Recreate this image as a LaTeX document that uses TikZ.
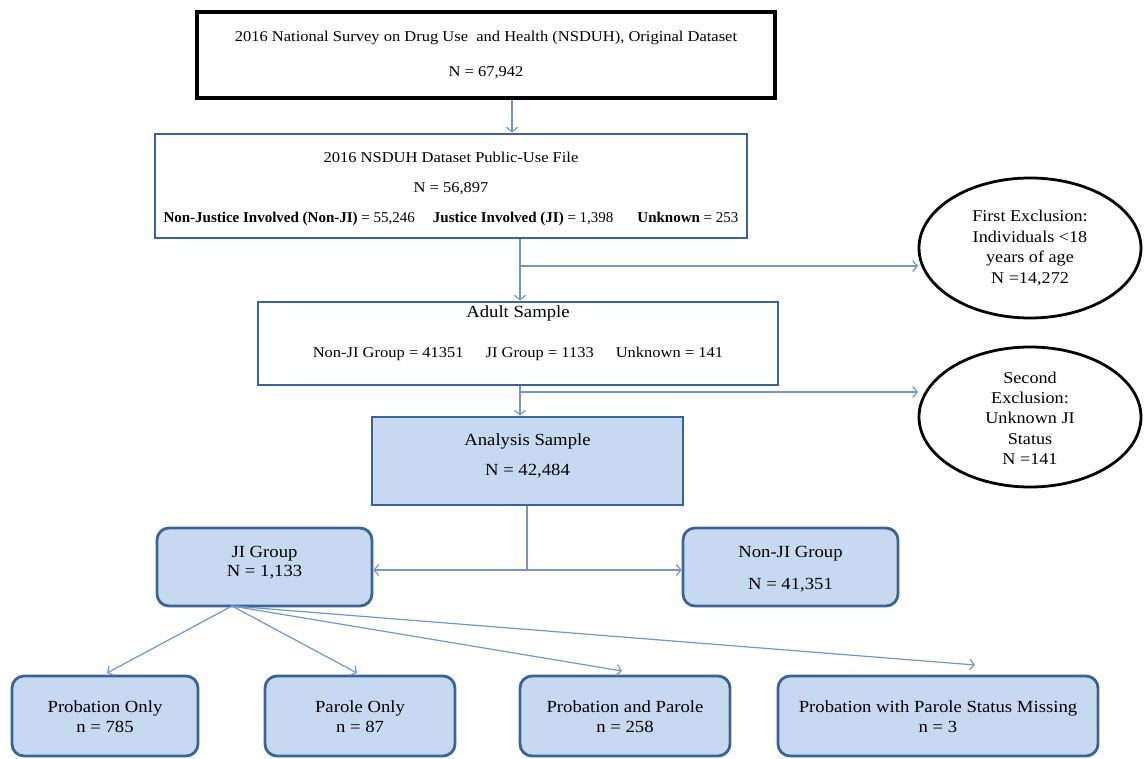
\documentclass[tikz,border=0pt]{standalone}
\usepackage{fontspec}
\setmainfont{Liberation Serif}[FakeStretch=1.1]
\newfontfamily\plainfont{Liberation Serif}
\usetikzlibrary{arrows.meta,shapes.geometric,calc}
\definecolor{fillblue}{HTML}{C6D9F1}
\definecolor{edgeblue}{HTML}{3B6496}
\definecolor{arrowblue}{HTML}{6F97CC}
\begin{document}
\begin{tikzpicture}[x=1pt,y=-1pt,
  txt/.style={font=\fontsize{17}{20}\selectfont, align=center, inner sep=0pt},
  smalltxt/.style={font=\fontsize{15}{18}\selectfont, align=center, inner sep=0pt},
  blackbox/.style={draw=black, line width=3.2pt, fill=white, inner sep=0pt},
  plainbox/.style={draw=edgeblue, line width=2.8pt, fill=white, inner sep=0pt},
  fillbox/.style={draw=edgeblue, line width=2.8pt, fill=fillblue, inner sep=0pt},
  roundbox/.style={fillbox, rounded corners=12pt},
  exclusion/.style={ellipse, draw=black, line width=2.8pt, fill=white, inner sep=0pt,
    minimum width=222pt, minimum height=140pt},
  conn/.style={draw=arrowblue, line width=1.2pt},
  arr/.style={conn, -{Straight Barb[length=4.5pt,width=11pt]}}
]
\useasboundingbox (0,0) rectangle (1144,759);

% boxes
\node[blackbox, minimum width=578pt, minimum height=86pt] (orig) at (486,55) {};
\node[smalltxt] (torig) at (486,55) {2016 National Survey on Drug Use~ and Health (NSDUH), Original Dataset\\[17pt] N = 67,942};

\node[plainbox, minimum width=592pt, minimum height=104pt] (pub) at (451,186) {};
\node[smalltxt] (tpub) at (451,189) {2016 NSDUH Dataset Public-Use File\\[12pt] N = 56,897\\[12pt]
  {\plainfont\textbf{Non-Justice Involved (Non-JI)} = 55,246\hspace{18pt}\textbf{Justice Involved (JI)} = 1,398\hspace{24pt}\textbf{Unknown} = 253}};

\node[plainbox, minimum width=520pt, minimum height=83pt] (adult) at (518,343.5) {};
\node[txt] (tadult) at (518,313) {Adult Sample};
\node[smalltxt] (tadult2) at (518,354) {Non-JI Group = 41351\hspace{22pt}JI Group = 1133\hspace{22pt}Unknown = 141};

\node[fillbox, minimum width=311pt, minimum height=88pt] (an) at (527.5,461) {};
\node[txt] (tan) at (527.5,456) {Analysis Sample\\[10pt] N = 42,484};

\node[roundbox, minimum width=215pt, minimum height=78pt] (ji) at (264.5,567) {};
\node[txt] (tji) at (264.5,563) {JI Group\\[-1pt] N = 1,133};

\node[roundbox, minimum width=215pt, minimum height=78pt] (nonji) at (790.5,567) {};
\node[txt] (tnonji) at (790.5,569) {Non-JI Group\\[12pt] N = 41,351};

\node[roundbox, minimum width=186pt, minimum height=80pt] (pa) at (105,716) {};
\node[txt] (tpa) at (105,717) {Probation Only\\ n = 785};
\node[roundbox, minimum width=190pt, minimum height=80pt] (pb) at (360,716) {};
\node[txt] (tpb) at (360,717) {Parole Only\\ n = 87};
\node[roundbox, minimum width=210pt, minimum height=80pt] (pc) at (625,716) {};
\node[txt] (tpc) at (625,717) {Probation and Parole\\ n = 258};
\node[roundbox, minimum width=320pt, minimum height=80pt] (pd) at (938,716) {};
\node[txt] (tpd) at (938,717) {Probation with Parole Status Missing\\ n = 3};

% exclusions
\node[exclusion] (ex1) at (1030,248) {};
\node[txt, font=\fontsize{16.5}{20.5}\selectfont] (tex1) at (1030,248) {First Exclusion:\\ Individuals <18\\ years of age\\ N =14,272};
\node[exclusion] (ex2) at (1030,417) {};
\node[txt, font=\fontsize{16.5}{20.3}\selectfont] (tex2) at (1030,418) {Second\\ Exclusion:\\ Unknown JI\\ Status\\ N =141};

% connectors
\coordinate (c1) at (512,0);
\draw[arr] (c1 |- orig.south) -- (c1 |- pub.north);

\coordinate (c2) at (520,266);
\draw[arr] (c2 |- pub.south) -- (c2 |- adult.north);
\draw[arr] (c2) -- (918,266) coordinate (e1);

\coordinate (c3) at (520,392);
\draw[arr] (c3 |- adult.south) -- (c3 |- an.north);
\draw[arr] (c3) -- (918,392) coordinate (e2);

\coordinate (c4) at (527,570);
\draw[conn] (c4 |- an.south) -- (c4);
\draw[arr] (c4) -- (c4 -| ji.east);
\draw[arr] (c4) -- (c4 -| nonji.west);

\coordinate (jb) at (232,606);
\coordinate (ta) at (107,673);
\coordinate (tb) at (357,673);
\coordinate (tc) at (622,671);
\coordinate (td) at (975,665);
\draw[arr] (jb) -- (ta);
\draw[arr] (jb) -- (tb);
\draw[arr] (jb) -- (tc);
\draw[arr] (jb) -- (td);
\end{tikzpicture}
\end{document}
